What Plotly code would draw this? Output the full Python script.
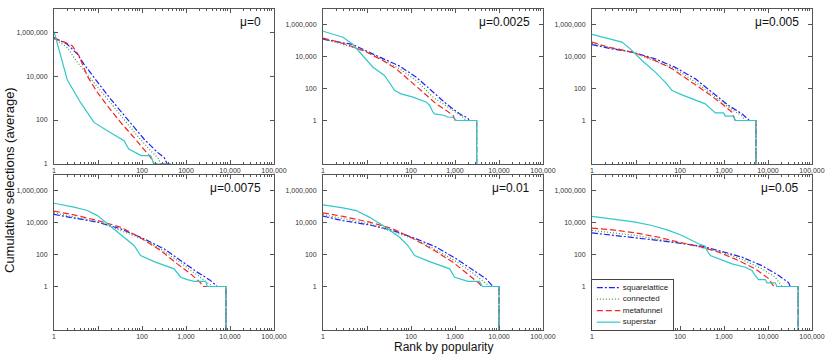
import plotly.graph_objects as go

# panel labels (mutation rate) and series names
MU_LABELS = ["μ=0", "μ=0.0025", "μ=0.005", "μ=0.0075", "μ=0.01", "μ=0.05"]
SERIES = ["squarelattice", "connected", "metafunnel", "superstar"]

# rank by popularity / cumulative selections, one list per panel
# a trailing 0 marks the drop to zero selections at the last ranked item
SQ_RANK = [
    [1, 2, 3.4, 4.8, 8.1, 19.4, 46, 111, 224, 317, 375, 430, 430],
    [1, 2, 4.8, 9.7, 23, 55, 132, 317, 635, 1270, 1960, 2100, 3100, 3100],
    [1, 2.85, 8.1, 27.5, 78, 224, 535, 1270, 2560, 3600, 3800, 5300, 5300],
    [1, 2.85, 9.7, 33, 111, 317, 760, 1800, 3600, 5100, 8100, 8100],
    [1, 2.85, 11.5, 39, 132, 375, 1070, 2560, 5100, 7300, 10000, 10000],
    [1, 2.85, 9.7, 33, 111, 317, 900, 2560, 7300, 17500, 29500, 32000, 48500, 48500],
]
SQ_SEL = [
    [5.7e5, 2.8e5, 1e5, 3.5e4, 8.7e3, 900, 112, 13.7, 3.4, 2, 1, 1, 0],
    [1.2e5, 8.5e4, 5.6e4, 2.2e4, 7500, 2500, 510, 59, 11, 2.6, 1.4, 1, 1, 0],
    [5.6e4, 3e4, 1.9e4, 7100, 2100, 400, 59, 8.7, 2.6, 1.2, 1, 1, 0],
    [3.2e4, 1.9e4, 1.05e4, 4000, 950, 225, 42, 7.9, 2.4, 1, 1, 0],
    [2.5e4, 1.3e4, 7100, 3200, 950, 290, 54, 10, 3, 1, 1, 0],
    [2250, 1700, 1100, 750, 465, 330, 155, 68, 20, 4.9, 1.7, 1, 1, 0],
]

CONN_RANK = [
    [1, 2, 3.4, 5.7, 13.7, 32.6, 78, 157, 242, 265, 430, 430],
    [1, 9.7, 55, 132, 317, 760, 1520, 1800, 3100, 3100],
    [1, 8.1, 78, 224, 535, 1270, 2560, 3000, 5300, 5300],
    [1, 9.7, 111, 317, 760, 1800, 3300, 4000, 8100, 8100],
    [1, 11.5, 132, 375, 1070, 2560, 5100, 6100, 10000, 10000],
    [1, 9.7, 111, 900, 2560, 7300, 14600, 20800, 48500, 48500],
]
CONN_SEL = [
    [5.1e5, 2e5, 4.2e4, 1.2e4, 1300, 158, 19.4, 4, 1.7, 1, 1, 0],
    [1.3e5, 2.1e4, 1700, 316, 29, 5.4, 1.6, 1, 1, 0],
    [6.5e4, 1.9e4, 1700, 250, 42, 6.8, 1.9, 1, 1, 0],
    [4e4, 1.15e4, 850, 160, 30, 5.5, 1.5, 1, 1, 0],
    [3.1e4, 8.2e3, 850, 190, 36, 6.8, 1.5, 1, 1, 0],
    [3200, 1550, 510, 140, 49, 12.7, 3.8, 1, 1, 0],
]

META_RANK = [
    [1, 1.69, 2.6, 3.7, 5.7, 9.7, 16.3, 32.6, 66, 111, 157, 188, 430, 430],
    [1, 1.69, 4, 9.7, 23, 46, 93, 188, 375, 635, 900, 980, 1000, 3100, 3100],
    [1, 2.4, 8.1, 23, 66, 188, 450, 900, 1520, 1800, 5300, 5300],
    [1, 2.85, 9.7, 33, 93, 265, 635, 1270, 2150, 2350, 8100, 8100],
    [1, 2.85, 11.5, 39, 111, 317, 900, 2150, 3600, 4000, 10000, 10000],
    [1, 2.85, 9.7, 33, 93, 265, 760, 2150, 5100, 10500, 13500, 48500, 48500],
]
META_SEL = [
    [5.1e5, 3.6e5, 2.4e5, 8.4e4, 1.0e4, 1800, 450, 78, 16, 4.8, 2.0, 1, 1, 0],
    [1.4e5, 1e5, 4.9e4, 1.9e4, 5600, 1700, 316, 59, 11, 4.2, 2.1, 1.3, 1, 1, 0],
    [7.9e4, 3.8e4, 1.9e4, 7100, 1700, 250, 46, 11, 3.3, 1, 1, 0],
    [5.1e4, 3e4, 1.35e4, 5100, 1100, 178, 26, 6.2, 1.7, 1, 1, 0],
    [4e4, 2.4e4, 1.05e4, 4000, 1000, 200, 33, 4.9, 1.5, 1, 1, 0],
    [4400, 3500, 2250, 1200, 590, 330, 140, 42, 12.7, 3, 1, 1, 0],
]

STAR_RANK = [
    [1, 2, 4, 8.1, 16, 39, 50, 72, 96, 157, 188, 430, 430],
    [1, 2, 2.85, 4.8, 6.8, 13.7, 25, 42.6, 60, 111, 224, 265, 317, 345, 580, 690, 900, 1070, 3100, 3100],
    [1, 2.4, 4.8, 7.4, 13.7, 27.5, 50, 66, 111, 375, 490, 635, 980, 1070, 1650, 1800, 5300, 5300],
    [1, 2.85, 5.7, 9.7, 16.3, 39, 66, 93, 188, 535, 760, 1070, 1520, 2800, 3050, 8100, 8100],
    [1, 2.85, 5.7, 11.5, 23, 55, 85, 121, 265, 760, 980, 1270, 1960, 3600, 4200, 10000, 10000],
    [1, 2.85, 9.7, 23, 55, 111, 188, 265, 375, 410, 490, 760, 1520, 3050, 4300, 5100, 6100,
     8700, 9500, 14600, 16000, 48500, 48500],
]
STAR_SEL = [
    [1.07e6, 6800, 630, 78, 33, 11.5, 4.8, 3.2, 2.4, 2.4, 1, 1, 0],
    [3.8e5, 2.3e5, 1.6e5, 5.6e4, 1.9e4, 2150, 650, 75, 46, 29, 14, 8.7, 3.3, 2.6, 2.05, 1.6, 1.6, 1, 1, 0],
    [2.4e5, 1.26e5, 7.9e4, 3e4, 5600, 1050, 195, 75, 40, 11, 5.4, 3, 3, 1.9, 1.9, 1, 1, 0],
    [1.6e5, 9.1e4, 5.6e4, 2.7e4, 8300, 1200, 365, 87, 36, 12.7, 3.8, 2.7, 2.1, 2.1, 1, 1, 0],
    [1.27e5, 8.3e4, 5.6e4, 2.1e4, 6500, 1200, 365, 87, 36, 12.7, 3.8, 3, 2.1, 2.1, 1, 1, 0],
    [2.4e4, 1.7e4, 1.05e4, 6500, 3200, 1550, 750, 465, 330, 178, 87, 54, 26, 16, 10, 4.9, 2.7,
     2.7, 1.7, 1.7, 1, 1, 0],
]

X_TICKS = [1, 10, 100, 1000, 10000, 100000]
X_TICKTEXT_FIRST = ["1", "", "100", "1000", "10,000", "100,000"]
X_TICKTEXT = ["1", "", "100", "1,000", "10,000", "100,000"]
Y_TICKS = [1, 100, 10000, 1000000]
Y_TICKTEXT = ["1", "100", "10,000", "1,000,000"]

W, H = 830, 356
COL_X = [54, 323, 592]
PANEL_W = 220
ROW_Y = [(9, 164), (175, 330)]
LEG_BOX = (592, 280, 673, 330)  # left, top, right, bottom in px
FONT = "Liberation Sans, Arial, sans-serif"
FLOOR = 1e-6  # zero selections can't sit on a log axis

STYLE = {
    "squarelattice": dict(color="#2020ff", dash="6px,2px,2px,2px"),
    "connected": dict(color="#3c9c3c", dash="1px,2px"),
    "metafunnel": dict(color="#ff2020", dash="6px,3px"),
    "superstar": dict(color="#30c8c8", dash="solid"),
}
DATA = {
    "squarelattice": (SQ_RANK, SQ_SEL),
    "connected": (CONN_RANK, CONN_SEL),
    "metafunnel": (META_RANK, META_SEL),
    "superstar": (STAR_RANK, STAR_SEL),
}

minor_vals = [m * 10 ** d for d in range(5) for m in range(2, 10)]

fig = go.Figure()
for i, mu in enumerate(MU_LABELS):
    n = "" if i == 0 else str(i + 1)
    row, col = divmod(i, 3)
    x0 = COL_X[col]
    y_top, y_bot = ROW_Y[row]

    for name in SERIES:
        ranks, sels = DATA[name]
        fig.add_trace(go.Scatter(
            x=ranks[i], y=[max(v, FLOOR) for v in sels[i]],
            mode="lines", name=name, showlegend=False,
            line=dict(width=1.2, **STYLE[name]),
            xaxis="x" + n, yaxis="y" + n,
        ))

    axis_common = dict(
        showline=True, linecolor="#555", linewidth=1, mirror="ticks",
        ticks="inside", tickcolor="#555", ticklen=4, showgrid=False, zeroline=False,
        tickfont=dict(family=FONT, size=7, color="#333"), automargin=False,
    )
    fig.layout["xaxis" + n] = dict(
        type="log", range=[0, 5],
        domain=[x0 / W, (x0 + PANEL_W) / W], anchor="y" + n,
        tickmode="array", tickvals=X_TICKS,
        ticktext=X_TICKTEXT_FIRST if i == 0 else X_TICKTEXT,
        minor=dict(tickmode="array", tickvals=minor_vals, ticks="inside", ticklen=2,
                   tickcolor="#555"),
        **axis_common,
    )
    fig.layout["yaxis" + n] = dict(
        type="log", range=[0, 7.05] if i == 0 else [-2.72, 6.97],
        domain=[1 - y_bot / H, 1 - y_top / H], anchor="x" + n,
        tickmode="array", tickvals=Y_TICKS, ticktext=Y_TICKTEXT,
        ticklabelstandoff=4,
        **axis_common,
    )
    fig.add_annotation(
        text=mu, xref=f"x{n} domain", yref=f"y{n} domain",
        x=0.95, y=1 - 13 / (y_bot - y_top), xanchor="right", yanchor="middle",
        showarrow=False, font=dict(family=FONT, size=12, color="#111"),
    )

# compact key in the last panel, drawn on its own small axis (one row per series)
lx0, ly0, lx1, ly1 = LEG_BOX
for name in SERIES:
    fig.add_trace(go.Scatter(
        x=[0.06, 0.35], y=[name, name], mode="lines", showlegend=False,
        line=dict(width=1.2, **STYLE[name]), xaxis="x7", yaxis="y7", hoverinfo="skip",
    ))
fig.add_trace(go.Scatter(
    x=[0.38] * len(SERIES), y=SERIES, text=SERIES, mode="text",
    textposition="middle right", showlegend=False, hoverinfo="skip",
    textfont=dict(family=FONT, size=8, color="#222"), xaxis="x7", yaxis="y7",
))
fig.layout["xaxis7"] = dict(
    domain=[lx0 / W, lx1 / W], anchor="y7", range=[0, 1], visible=True,
    showticklabels=False, ticks="", showgrid=False, zeroline=False,
    showline=True, linecolor="#444", linewidth=1, mirror=True,
)
fig.layout["yaxis7"] = dict(
    domain=[1 - ly1 / H, 1 - ly0 / H], anchor="x7", type="category",
    categoryorder="array", categoryarray=SERIES, range=[3.68, -0.66],
    showticklabels=False, ticks="", showgrid=False, zeroline=False,
    showline=True, linecolor="#444", linewidth=1, mirror=True,
)

fig.add_annotation(
    text="Cumulative selections (average)", xref="paper", yref="paper",
    x=9 / W, y=1 - 180 / H, xanchor="center", yanchor="middle", textangle=-90,
    showarrow=False, font=dict(family=FONT, size=13, color="#111"),
)
fig.add_annotation(
    text="Rank by popularity", xref="paper", yref="paper",
    x=443 / W, y=1 - 347 / H, xanchor="center", yanchor="middle", showarrow=False,
    font=dict(family=FONT, size=12, color="#111"),
)

fig.update_layout(
    width=W, height=H,
    margin=dict(l=0, r=0, t=0, b=0),
    paper_bgcolor="white", plot_bgcolor="white",
    showlegend=False,
)

fig.write_html("out.html", config={"displayModeBar": False},
               post_script="document.body.style.margin='0px';")
